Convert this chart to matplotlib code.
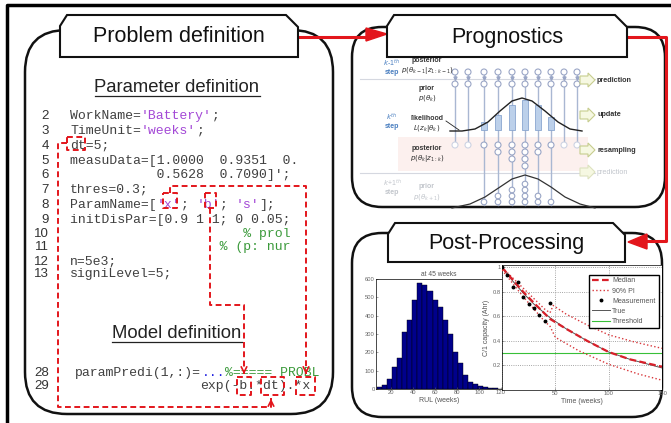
import numpy as np
import matplotlib.pyplot as plt
from matplotlib.patches import FancyBboxPatch, Polygon, Rectangle, Circle

plt.rcParams['font.family'] = ['Liberation Sans', 'DejaVu Sans']

# ---------------- data ----------------
# code listing: (line number, [(text, kind)])
code_lines = [
    ("2", [("WorkName=", "k"), ("'Battery'", "s"), (";", "k")]),
    ("3", [("TimeUnit=", "k"), ("'weeks'", "s"), (";", "k")]),
    ("4", [("dt=5;", "k")]),
    ("5", [("measuData=[1.0000  0.9351  0.", "k")]),
    ("6", [("           0.5628  0.7090]';", "k")]),
    ("7", [("thres=0.3;", "k")]),
    ("8", [("ParamName=[", "k"), ("'x'", "s"), ("; ", "k"), ("'b'", "s"), ("; ", "k"), ("'s'", "s"), ("];", "k")]),
    ("9", [("initDisPar=[0.9 1 1; 0 0.05;", "k")]),
    ("10", [(" " * 22 + "% prol", "c")]),
    ("11", [(" " * 19 + "% (p: nur", "c")]),
    ("12", [("n=5e3;", "k")]),
    ("13", [("signiLevel=5;", "k")]),
]
model_lines = [
    ("28", [("paramPredi(1,:)=", "k"), ("...", "b"), ("%===== PROBL", "c")]),
    ("29", [("exp(-b.*dt).*x", "k")]),
]

# histogram of RUL at 45 weeks
rul_centers = [9.3, 13.9, 18.5, 23.1, 27.7, 32.3, 36.9, 41.5, 46.1, 50.7, 55.3, 59.9, 64.5,
               69.1, 73.7, 78.3, 82.9, 87.5, 92.1, 96.7, 101.3, 105.9, 110.5, 115.1, 119.7]
rul_counts = [9, 22, 53, 118, 168, 310, 378, 487, 578, 569, 533, 487, 450,
              378, 301, 204, 140, 77, 40, 26, 16, 13, 7, 4, 2]

# capacity degradation
meas_t = [0, 5, 10, 15, 20, 25, 30, 35, 40, 45]
meas_c = [1.0, 0.935, 0.84, 0.88, 0.76, 0.70, 0.67, 0.61, 0.563, 0.709]
true_t = [0, 10, 20, 30, 45, 60, 80, 100, 120, 150]
true_c = [1.0, 0.89, 0.79, 0.70, 0.59, 0.50, 0.40, 0.31, 0.25, 0.18]
med_t = [0, 10, 20, 30, 45, 60, 80, 100, 120, 150]
med_c = [1.0, 0.90, 0.80, 0.71, 0.58, 0.50, 0.40, 0.31, 0.25, 0.19]
pi_up_t = [0, 20, 40, 45, 48, 60, 80, 100, 125, 150]
pi_up_c = [1.0, 0.83, 0.66, 0.63, 0.69, 0.62, 0.53, 0.45, 0.39, 0.34]
pi_lo_t = [0, 20, 40, 45, 50, 72, 100, 128, 150]
pi_lo_c = [0.98, 0.76, 0.56, 0.52, 0.43, 0.32, 0.21, 0.13, 0.08]
threshold = 0.3

# particle filter sketch
pf_cols = [455, 468, 484, 498, 512, 525, 538, 551, 564, 577]
pf_weights = [0, 0, 8, 15, 25, 30, 25, 13, 0, 0]
pf_resampled = [0, 0, 1, 2, 3, 4, 2, 1, 0, 0]
pf_next = [0, 0, 1, 2, 3, 4, 2, 1, 0, 0]
lik_x = [450, 462, 475, 488, 500, 512, 522, 532, 545, 558, 570, 582]
lik_y = [131, 131, 129, 122, 111, 101, 98, 101, 111, 122, 129, 131]
nxt_x = [452, 470, 485, 500, 512, 525, 538, 551, 565, 580, 595]
nxt_y = [208, 204, 197, 187, 179, 175, 179, 187, 197, 204, 208]
steps = ["prediction", "update", "resampling", "prediction"]

# ---------------- drawing ----------------
RED = '#e3161c'
fig = plt.figure(figsize=(6.71, 4.23), dpi=100)
ax = fig.add_axes([0, 0, 1, 1])
ax.set_xlim(0, 671)
ax.set_ylim(423, 0)
ax.axis('off')
renderer = fig.canvas.get_renderer()

# outer frame (cropped)
ax.plot([7, 7, 671], [425, 5, 5], color='black', lw=2.5, solid_capstyle='butt')


def panel(x0, y0, x1, y1, r):
    ax.add_patch(FancyBboxPatch((x0, y0), x1 - x0, y1 - y0,
                                boxstyle="round,pad=0,rounding_size=%d" % r,
                                fc='white', ec='#111111', lw=1.8, zorder=1))


def tab(x0, y0, x1, y1, label):
    pts = [(x0, y1), (x0, y0 + 11), (x0 + 7, y0), (x1 - 12, y0), (x1, y0 + 12), (x1, y1)]
    ax.add_patch(Polygon(pts, closed=True, fc='white', ec='#111111', lw=1.5, zorder=5))
    ax.text((x0 + x1) / 2, (y0 + y1) / 2 + 1, label, ha='center', va='center',
            fontsize=15.5, color='#111111', zorder=6)


panel(25, 30, 333, 414, 42)
panel(352, 27, 665, 207, 30)
panel(352, 233, 662, 417, 30)
tab(60, 15, 298, 57, "Problem definition")
tab(387, 15, 627, 57, "Prognostics")
tab(388, 223, 625, 262, "Post-Processing")

# red connectors
ax.plot([298, 366], [37, 37], color=RED, lw=2.2, zorder=4)
ax.add_patch(Polygon([(366, 28), (387, 34), (366, 41)], closed=True, fc=RED, ec=RED, zorder=4))
ax.plot([627, 666, 666, 646], [37, 37, 241, 241], color=RED, lw=2.2, zorder=4)
ax.add_patch(Polygon([(647, 234), (628, 242), (647, 249)], closed=True, fc=RED, ec=RED, zorder=4))

# ---- problem definition: code listing ----
colors = {"k": '#404040', "s": '#a348d6', "c": '#3b9a3b', "b": '#2020e0'}
cw = 7.9
mono = dict(family='Liberation Mono', fontsize=cw / 0.6 * 0.72, va='center', zorder=3)


def code(x0, y, segs):
    col = 0
    for txt, kind in segs:
        ax.text(x0 + col * cw, y, txt, color=colors[kind], **mono)
        col += len(txt)


def heading(x, y, s):
    t = ax.text(x, y, s, ha='center', va='center', fontsize=13.3, color='#222222', zorder=3)
    bb = t.get_window_extent(renderer)
    ax.plot([bb.x0, bb.x1], [y + 8.5, y + 8.5], color='#222222', lw=0.9, zorder=3)


heading(177, 88, "Parameter definition")
heading(177, 334, "Model definition")

code_y = [116, 131, 146, 161, 175, 190, 205, 220, 234, 247, 262, 274]
for (num, segs), y in zip(code_lines, code_y):
    ax.text(49, y, num, ha='right', va='center', fontsize=9.5, color='#333333', zorder=3)
    code(70, y, segs)

model_y = [373, 386]
model_x = [75, 200]
for (num, segs), y, x0 in zip(model_lines, model_y, model_x):
    ax.text(49, y, num, ha='right', va='center', fontsize=9.5, color='#333333', zorder=3)
    code(x0, y, segs)

# dashed link boxes and paths
dash = dict(color=RED, lw=1.4, linestyle=(0, (3, 1.8)), zorder=4)


def dbox(x0, y0, x1, y1):
    ax.plot([x0, x1, x1, x0, x0], [y0, y0, y1, y1, y0], **dash)


dbox(67, 137, 85, 150)
dbox(163, 193, 177, 208)
dbox(205, 193, 216, 208)
dbox(237, 377, 251, 395)
dbox(261, 377, 284, 395)
dbox(296, 377, 315, 395)
ax.plot([67, 58, 58, 271, 271], [143, 143, 407, 407, 398], **dash)
ax.plot([170, 170, 306, 306], [193, 186, 186, 372], **dash)
ax.plot([210, 210, 244, 244], [208, 305, 305, 372], **dash)
for xa, ya, yb in [(271, 402, 396), (306, 370, 377), (244, 370, 377)]:
    ax.annotate('', xy=(xa, yb), xytext=(xa, ya),
                arrowprops=dict(arrowstyle='->', color=RED, lw=1.2), zorder=4)

# ---- prognostics: particle filter sketch ----
ax.add_patch(Rectangle((398, 137), 190, 34, fc='#fcf0ee', ec='none', zorder=2))
ax.plot([360, 595], [79, 79], color='#d5d8e0', lw=0.8, zorder=2)
ax.plot([360, 595], [173, 173], color='#d5d8e0', lw=0.8, zorder=2)
line_c = '#a9b7d2'
circ_c = '#9aa6c6'
for i, x in enumerate(pf_cols):
    ybot = 205 if pf_resampled[i] else 145
    ax.plot([x, x], [72, ybot], color=line_c, lw=1.0, zorder=2)
    for y in (72, 84):
        ax.add_patch(Circle((x, y), 3, fc='white', ec=circ_c, lw=0.8, zorder=3))
    ax.plot(x, 78.5, marker='v', ms=2.2, color=circ_c, zorder=3)
    pc = circ_c if pf_resampled[i] else '#cdd3e3'
    for k in range(max(pf_resampled[i], 1)):
        ax.add_patch(Circle((x, 145 + 7 * k), 3, fc='white', ec=pc, lw=0.8, zorder=3))
    for k in range(pf_next[i]):
        ax.add_patch(Circle((x, 202 - 6 * k), 2.8, fc='white', ec=circ_c, lw=0.8, zorder=3))
    if pf_weights[i]:
        ax.add_patch(Rectangle((x - 3, 130 - pf_weights[i]), 6, pf_weights[i],
                               fc='#bcd0ea', ec='#8aa6cf', lw=0.6, zorder=3))
ax.plot(lik_x, lik_y, color='#222222', lw=1.0, zorder=4)
ax.plot(nxt_x, nxt_y, color='#333333', lw=0.9, zorder=4)
ax.plot([446, 459], [121, 130], color='#222222', lw=0.6, zorder=4)

blue = '#4a7fc0'
fade = '#c2c6cc'
small = dict(ha='center', va='center', fontsize=5, zorder=4)
ax.text(392, 62, "$k$-1$^{th}$", color=blue, **small)
ax.text(392, 72, "step", color=blue, weight='bold', **small)
ax.text(392, 117, "$k^{th}$", color=blue, **small)
ax.text(392, 127, "step", color=blue, weight='bold', **small)
ax.text(392, 183, "$k$+1$^{th}$", color=fade, **small)
ax.text(392, 193, "step", color=fade, weight='bold', **small)
ax.text(427, 61, "posterior", color='#333333', weight='bold', **small)
ax.text(427, 71, r"$p(\theta_{k-1}|z_{1:k-1})$", color='#333333', **small)
ax.text(427, 88, "prior", color='#333333', weight='bold', **small)
ax.text(427, 98, r"$p(\theta_k)$", color='#333333', **small)
ax.text(427, 118, "likelihood", color='#333333', weight='bold', **small)
ax.text(427, 129, r"$L(z_k|\theta_k)$", color='#333333', **small)
ax.text(427, 148, "posterior", color='#333333', weight='bold', **small)
ax.text(427, 158, r"$p(\theta_k|z_{1:k})$", color='#333333', **small)
ax.text(427, 187, "prior", color=fade, weight='bold', **small)
ax.text(427, 197, r"$p(\theta_{k+1})$", color=fade, **small)

step_y = [80, 115, 150, 172]
for lab, y, c in zip(steps, step_y, ['#333333', '#333333', '#333333', fade]):
    x0 = 580
    pts = [(x0, y - 4), (x0 + 8, y - 4), (x0 + 8, y - 7), (x0 + 15, y),
           (x0 + 8, y + 7), (x0 + 8, y + 4), (x0, y + 4)]
    ec = '#c6cd8e' if c != fade else '#dde2bf'
    ax.add_patch(Polygon(pts, closed=True, fc='#f6f8e2', ec=ec, lw=0.8, zorder=4))
    ax.text(597, y, lab, ha='left', va='center', fontsize=5.2, color=c,
            weight='bold' if c != fade else 'normal', zorder=4)

# ---- post-processing: histogram ----
W, H = 671.0, 423.0
axh = fig.add_axes([376 / W, 1 - 389 / H, 126 / W, 110 / H])
axh.bar(rul_centers, rul_counts, width=4.6, color='#00008b', edgecolor='black', linewidth=0.3)
axh.set_xlim(6, 121)
axh.set_ylim(0, 600)
axh.set_xticks([20, 40, 60, 80, 100, 120])
axh.set_yticks([0, 100, 200, 300, 400, 500, 600])
axh.set_title("at 45 weeks", fontsize=4.8, color='#555555', pad=2)
axh.set_xlabel("RUL (weeks)", fontsize=5, color='#555555', labelpad=1)

# ---- post-processing: capacity prediction ----
axc = fig.add_axes([502 / W, 1 - 390 / H, 160 / W, 125 / H])
axc.grid(True, linestyle=':', color='#888888', lw=0.6)
axc.set_xticks([0, 50, 100, 150])
axc.set_xticklabels(["", "50", "100", "150"])
axc.set_yticks([0.2, 0.4, 0.6, 0.8, 1.0])
axc.set_yticklabels(["0.2", "0.4", "0.6", "0.8", "1"])
axc.axhline(threshold, color='#38c038', lw=0.8, label='Threshold', zorder=2)
axc.plot(true_t, true_c, color='#555555', lw=0.7, label='True', zorder=3)
axc.plot(pi_up_t, pi_up_c, color='#d8383c', lw=1.0, linestyle=':', label='90% PI', zorder=3)
axc.plot(pi_lo_t, pi_lo_c, color='#d8383c', lw=1.0, linestyle=':', zorder=3)
axc.plot(med_t, med_c, color='#d8202a', lw=1.6, linestyle='--', dashes=(3, 1.5), label='Median', zorder=4)
axc.plot(meas_t, meas_c, 'o', color='black', ms=1.8, label='Measurement', zorder=5)
axc.set_xlim(0, 150)
axc.set_ylim(0, 1.02)
axc.set_xlabel("Time (weeks)", fontsize=5, color='#555555', labelpad=1)
axc.set_ylabel("C/1 capacity (Ahr)", fontsize=5, color='#555555', labelpad=2)
h, l = axc.get_legend_handles_labels()
order = [l.index(n) for n in ['Median', '90% PI', 'Measurement', 'True', 'Threshold']]
axc.legend([h[i] for i in order], [l[i] for i in order], loc='upper right',
           bbox_to_anchor=(1.0, 0.95), fontsize=5, handlelength=2.6, borderpad=0.4,
           labelspacing=0.45, handletextpad=0.4, framealpha=1, edgecolor='black',
           fancybox=False, labelcolor='#555555')

for a in (axh, axc):
    a.tick_params(labelsize=4.2, colors='#666666', length=1.5, width=0.4, pad=1, direction='in')
    for s in a.spines.values():
        s.set_linewidth(0.5)

fig.savefig("out.png", dpi=100)
